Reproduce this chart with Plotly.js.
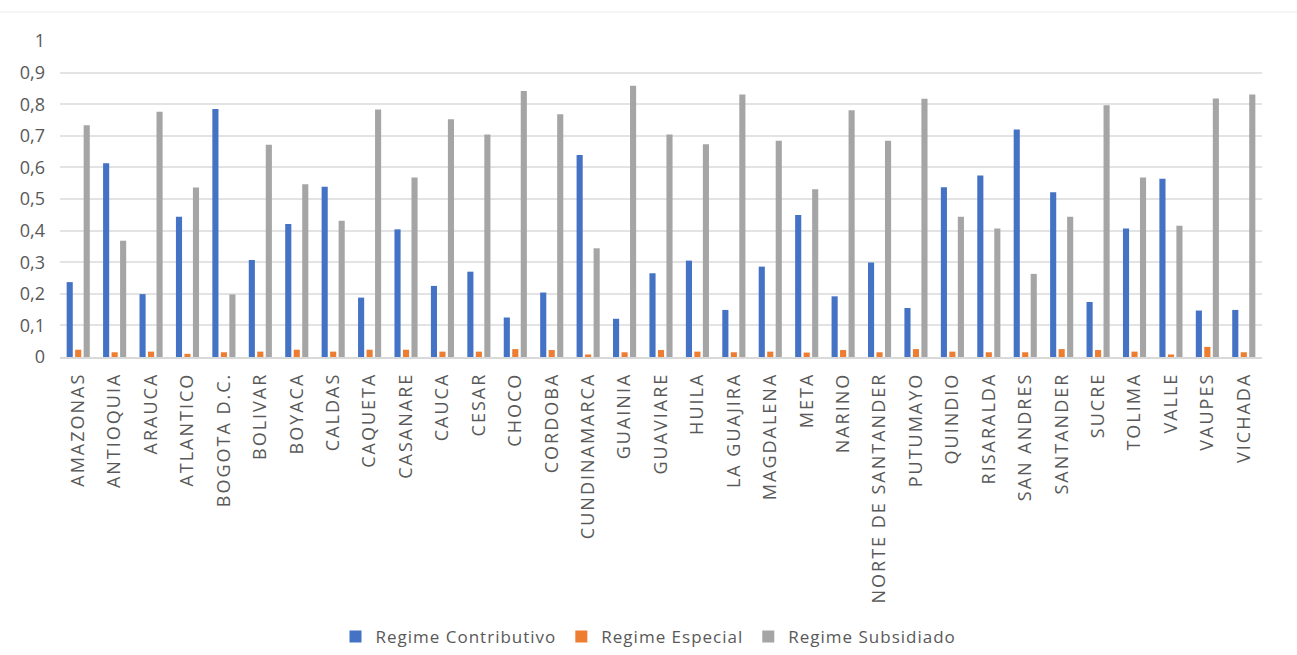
<!DOCTYPE html>
<html>
<head>
<meta charset="utf-8">
<script src="https://cdn.plot.ly/plotly-3.0.1.min.js"></script>
<style>
html,body{margin:0;padding:0;background:#fff;}
#chart{width:1297px;height:655px;}
.xtick text{letter-spacing:2px;}
.legendtext{letter-spacing:1px;}
</style>
</head>
<body>
<div id="chart"></div>
<script>
const departamentos = ["AMAZONAS","ANTIOQUIA","ARAUCA","ATLANTICO","BOGOTA D.C.","BOLIVAR","BOYACA","CALDAS","CAQUETA","CASANARE","CAUCA","CESAR","CHOCO","CORDOBA","CUNDINAMARCA","GUAINIA","GUAVIARE","HUILA","LA GUAJIRA","MAGDALENA","META","NARINO","NORTE DE SANTANDER","PUTUMAYO","QUINDIO","RISARALDA","SAN ANDRES","SANTANDER","SUCRE","TOLIMA","VALLE","VAUPES","VICHADA"];
const contributivo = [0.237,0.613,0.199,0.444,0.785,0.307,0.421,0.539,0.188,0.404,0.225,0.270,0.125,0.204,0.639,0.121,0.265,0.305,0.149,0.286,0.449,0.192,0.299,0.155,0.537,0.574,0.720,0.521,0.174,0.407,0.564,0.147,0.149];
const especial = [0.023,0.015,0.017,0.010,0.015,0.017,0.023,0.017,0.023,0.023,0.017,0.017,0.025,0.022,0.008,0.015,0.022,0.017,0.015,0.017,0.014,0.022,0.015,0.025,0.017,0.015,0.015,0.025,0.022,0.017,0.008,0.032,0.015];
const subsidiado = [0.733,0.368,0.776,0.536,0.198,0.672,0.547,0.431,0.783,0.568,0.752,0.704,0.842,0.768,0.344,0.858,0.704,0.673,0.831,0.684,0.531,0.781,0.684,0.817,0.444,0.407,0.263,0.444,0.797,0.568,0.415,0.818,0.831];
const seriesNames = ["Regime Contributivo","Regime Especial","Regime Subsidiado"];
const seriesColors = ["#4472C4","#ED7D31","#A5A5A5"];

const allValues = [contributivo, especial, subsidiado];
const traces = allValues.map((vals, i) => ({
  type: "bar",
  name: seriesNames[i],
  x: departamentos,
  y: vals,
  marker: {color: seriesColors[i]},
  hoverinfo: "x+y+name"
}));

const layout = {
  width: 1297,
  height: 655,
  margin: {l: 60, r: 35, t: 41, b: 298},
  paper_bgcolor: "#ffffff",
  plot_bgcolor: "#ffffff",
  barmode: "group",
  bargap: 0.3,
  bargroupgap: 0.28,
  separators: ",.",
  font: {family: "Open Sans, sans-serif", color: "#595959", size: 15},
  xaxis: {
    type: "category",
    tickangle: -90,
    tickfont: {family: "Open Sans, sans-serif", size: 18, color: "#595959"},
    showgrid: false,
    showline: true,
    linecolor: "#d9d9d9",
    linewidth: 1.5,
    ticks: "",
    ticklabelstandoff: 7
  },
  yaxis: {
    range: [0, 1],
    dtick: 0.1,
    tick0: 0,
    showgrid: true,
    gridcolor: "#e3e3e3",
    gridwidth: 2,
    zeroline: false,
    showline: false,
    ticks: "",
    tickfont: {family: "Open Sans, sans-serif", size: 18, color: "#595959"},
    ticklabelstandoff: 14
  },
  legend: {
    orientation: "h",
    x: 0.5,
    xanchor: "center",
    xref: "container",
    y: 0,
    yanchor: "bottom",
    yref: "container",
    font: {family: "Open Sans, sans-serif", size: 17, color: "#595959"},
    itemwidth: 30,
    traceorder: "normal"
  },
  shapes: [{
    type: "line", xref: "paper", yref: "paper",
    x0: -0.05, x1: 1.03, y0: 1.092, y1: 1.092,
    line: {color: "#ececec", width: 1}
  }]
};

Plotly.newPlot("chart", traces, layout, {displayModeBar: false, staticPlot: true});
</script>
</body>
</html>
